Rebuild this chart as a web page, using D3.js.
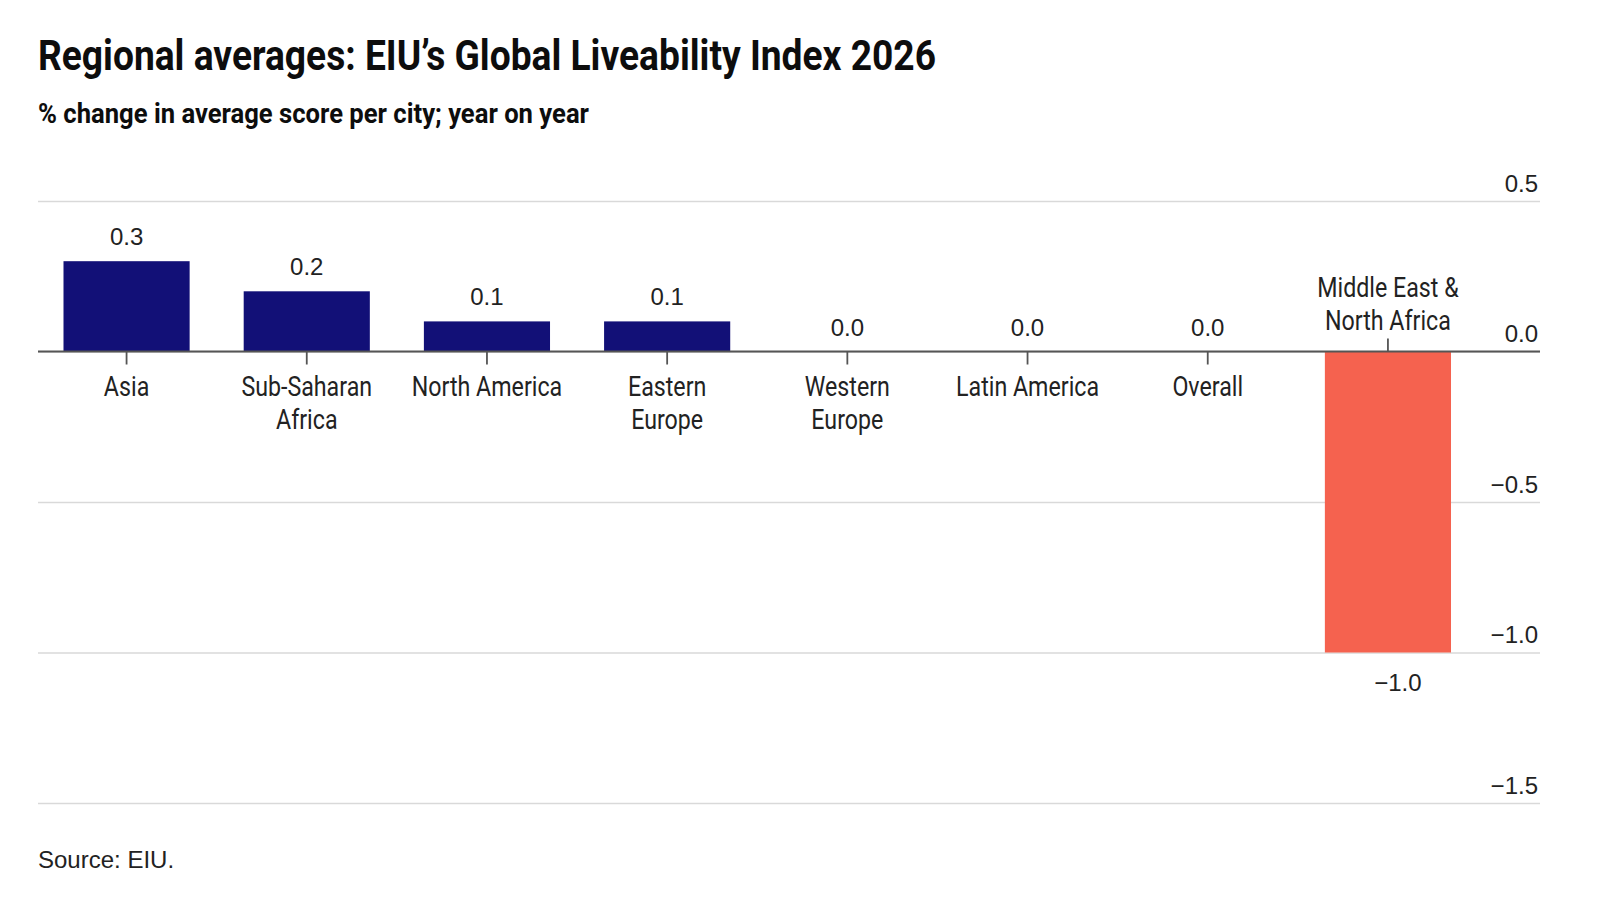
<!DOCTYPE html>
<html>
<head>
<meta charset="utf-8">
<script src="https://cdn.jsdelivr.net/npm/d3@7"></script>
<style>
  body { margin: 0; background: #fff; }
  .narrow { font-family: Roboto, "Liberation Sans", sans-serif; }
  .sans { font-family: "Liberation Sans", Arial, sans-serif; }
</style>
</head>
<body>
<div id="chart"></div>
<script>
// data
const categories = ["Asia", "Sub-Saharan Africa", "North America", "Eastern Europe",
  "Western Europe", "Latin America", "Overall", "Middle East & North Africa"];
const categoryLines = [["Asia"], ["Sub-Saharan", "Africa"], ["North America"], ["Eastern", "Europe"],
  ["Western", "Europe"], ["Latin America"], ["Overall"], ["Middle East &", "North Africa"]];
const values = [0.3, 0.2, 0.1, 0.1, 0.0, 0.0, 0.0, -1.0];
const yTicks = [0.5, 0, -0.5, -1.0, -1.5];

const width = 1600, height = 916;
const svg = d3.select("#chart").append("svg")
  .attr("width", width).attr("height", height);

const x = d3.scaleBand()
  .domain(categories)
  .range([38, 1476.5])
  .paddingInner(0.3)
  .paddingOuter(0.1415);

const y = d3.scaleLinear()
  .domain([0.5, -1.5])
  .range([201, 803]);

const fmt = d3.format(".1f");

// title + subtitle (condensed look)
svg.append("text").attr("class", "narrow")
  .attr("x", 38).attr("y", 70)
  .attr("font-size", 42).attr("font-weight", "bold").attr("fill", "#0d0d0d")
  .attr("textLength", 898).attr("lengthAdjust", "spacingAndGlyphs")
  .text("Regional averages: EIU\u2019s Global Liveability Index 2026");
svg.append("text").attr("class", "narrow")
  .attr("x", 38).attr("y", 123)
  .attr("font-size", 27).attr("font-weight", "bold").attr("fill", "#0d0d0d")
  .attr("textLength", 551).attr("lengthAdjust", "spacingAndGlyphs")
  .text("% change in average score per city; year on year");

// y axis with gridlines
const yAxis = svg.append("g")
  .attr("transform", "translate(1540,0)")
  .call(d3.axisLeft(y).tickValues(yTicks).tickSize(1502).tickFormat(fmt));
yAxis.select(".domain").remove();
yAxis.selectAll(".tick line").attr("stroke", "#d9d9d9").attr("stroke-width", 1.5);
yAxis.selectAll(".tick text").attr("class", "sans")
  .attr("x", -2).attr("dy", -10)
  .attr("text-anchor", "end").attr("font-size", 24).attr("fill", "#222");

// bars
svg.append("g").selectAll("rect")
  .data(values)
  .join("rect")
  .attr("x", (d, i) => x(categories[i]))
  .attr("width", x.bandwidth())
  .attr("y", d => y(Math.max(0, d)))
  .attr("height", d => Math.abs(y(d) - y(0)))
  .attr("fill", d => d < 0 ? "#f5624f" : "#121077");

// zero line
svg.append("line")
  .attr("x1", 38).attr("x2", 1540)
  .attr("y1", y(0)).attr("y2", y(0))
  .attr("stroke", "#555").attr("stroke-width", 1.8);

// x axis at zero
const xAxis = svg.append("g")
  .attr("transform", `translate(0,${y(0)})`)
  .call(d3.axisBottom(x).tickSize(13).tickSizeOuter(0));
xAxis.select(".domain").remove();
xAxis.selectAll(".tick line").attr("stroke", "#555").attr("stroke-width", 1.8)
  .attr("y2", (d, i) => values[i] < 0 ? -13 : 13);
xAxis.selectAll(".tick text").each(function (d, i) {
  const t = d3.select(this).text(null)
    .attr("class", "narrow").attr("font-size", 27).attr("fill", "#222")
    .attr("transform", "scale(0.86,1)")
    .attr("dy", null);
  const lines = categoryLines[i];
  const neg = values[i] < 0;
  t.attr("y", neg ? -(lines.length - 1) * 33 - 22 : 45);
  lines.forEach((l, k) => {
    t.append("tspan").attr("x", 0).attr("dy", k === 0 ? 0 : 33).text(l);
  });
});

// value labels
svg.append("g").selectAll("text")
  .data(values)
  .join("text")
  .attr("class", "sans")
  .attr("x", (d, i) => x(categories[i]) + x.bandwidth() / 2 + (d < 0 ? 10 : 0))
  .attr("y", d => d < 0 ? y(d) + 38 : y(d) - 16)
  .attr("text-anchor", "middle")
  .attr("font-size", 24).attr("fill", "#222")
  .text(d => fmt(d));

// source
svg.append("text").attr("class", "sans")
  .attr("x", 38).attr("y", 868)
  .attr("font-size", 24).attr("fill", "#222")
  .text("Source: EIU.");
</script>
</body>
</html>
